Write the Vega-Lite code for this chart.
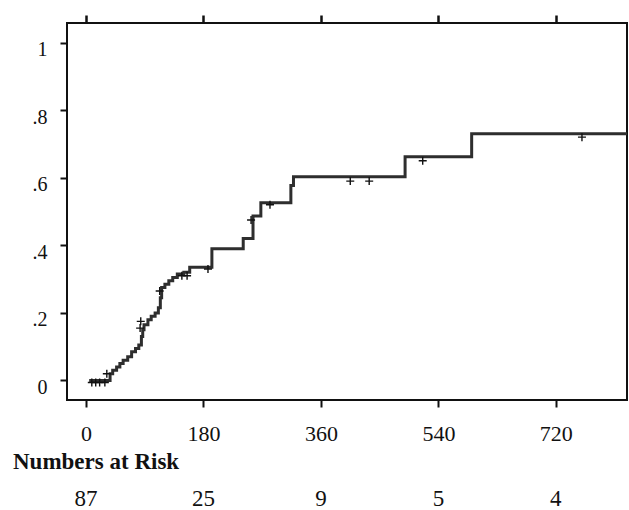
{
  "$schema": "https://vega.github.io/schema/vega-lite/v6.json",
  "autosize": {"type": "pad"},
  "padding": {"left": 13, "top": 12, "right": 0, "bottom": 4},
  "spacing": 92,
  "bounds": "flush",
  "background": "white",
  "config": {
    "font": "Liberation Serif",
    "axis": {"labelFont": "Liberation Serif", "labelColor": "#111", "tickColor": "#111", "grid": false, "domain": false}
  },
  "datasets": {
    "curve": [
      {"time": 5, "risk": 0}, {"time": 34, "risk": 0}, {"time": 37, "risk": 0.02}, {"time": 41, "risk": 0.03},
      {"time": 47, "risk": 0.04}, {"time": 52, "risk": 0.05}, {"time": 57, "risk": 0.06}, {"time": 64, "risk": 0.07},
      {"time": 70, "risk": 0.085}, {"time": 76, "risk": 0.095}, {"time": 81, "risk": 0.105}, {"time": 85, "risk": 0.13},
      {"time": 87, "risk": 0.15}, {"time": 89, "risk": 0.165}, {"time": 95, "risk": 0.18}, {"time": 100, "risk": 0.19},
      {"time": 106, "risk": 0.2}, {"time": 111, "risk": 0.215}, {"time": 114, "risk": 0.245}, {"time": 116, "risk": 0.275},
      {"time": 121, "risk": 0.285}, {"time": 127, "risk": 0.295}, {"time": 133, "risk": 0.305}, {"time": 140, "risk": 0.315},
      {"time": 150, "risk": 0.32}, {"time": 159, "risk": 0.335}, {"time": 193, "risk": 0.39}, {"time": 241, "risk": 0.42},
      {"time": 256, "risk": 0.487}, {"time": 268, "risk": 0.526}, {"time": 314, "risk": 0.577}, {"time": 318, "risk": 0.603},
      {"time": 489, "risk": 0.662}, {"time": 591, "risk": 0.73}, {"time": 829, "risk": 0.73}
    ],
    "censored": [
      {"time": 9, "risk": -0.006}, {"time": 15, "risk": -0.006}, {"time": 21, "risk": -0.006}, {"time": 29, "risk": -0.006},
      {"time": 32, "risk": 0.02}, {"time": 83, "risk": 0.155}, {"time": 84, "risk": 0.175}, {"time": 113, "risk": 0.265},
      {"time": 147, "risk": 0.31}, {"time": 155, "risk": 0.31}, {"time": 187, "risk": 0.33}, {"time": 253, "risk": 0.475},
      {"time": 282, "risk": 0.52}, {"time": 405, "risk": 0.59}, {"time": 434, "risk": 0.59}, {"time": 516, "risk": 0.65},
      {"time": 760, "risk": 0.72}
    ],
    "atrisk": [
      {"time": 0, "n": 87}, {"time": 180, "n": 25}, {"time": 360, "n": 9}, {"time": 540, "n": 5}, {"time": 720, "n": 4}
    ]
  },
  "vconcat": [
    {
      "width": 560,
      "height": 377,
      "view": {"stroke": "#111", "strokeWidth": 2},
      "layer": [
        {
          "data": {"name": "curve"},
          "mark": {"type": "line", "interpolate": "step-after", "color": "#2e2e2e", "strokeWidth": 3},
          "encoding": {
            "x": {
              "field": "time", "type": "quantitative",
              "scale": {"domain": [-29, 829], "nice": false, "zero": false},
              "axis": {"orient": "bottom", "values": [0, 180, 360, 540, 720], "tickSize": 7, "tickWidth": 2,
                       "labelFontSize": 22, "labelBaseline": "alphabetic", "labelPadding": 33, "labelFlush": false, "title": null}
            },
            "y": {
              "field": "risk", "type": "quantitative",
              "scale": {"domain": [-0.0577, 1.0577], "nice": false, "zero": false},
              "axis": {"values": [0, 0.2, 0.4, 0.6, 0.8, 1], "tickSize": 7, "tickWidth": 2, "labelPadding": 13,
                       "labelFontSize": 20, "labelBaseline": "alphabetic", "labelOffset": 13, "title": null,
                       "labelExpr": "datum.value == 0 ? '0' : datum.value == 1 ? '1' : replace(format(datum.value, '.1f'), '0.', '.')"}
            }
          }
        },
        {
          "data": {"name": "censored"},
          "mark": {"type": "point", "shape": "M-1,0L1,0M0,-1L0,1", "filled": false, "stroke": "#111", "strokeWidth": 1.4, "size": 64, "opacity": 1},
          "encoding": {
            "x": {
              "field": "time", "type": "quantitative",
              "scale": {"domain": [-29, 829], "nice": false, "zero": false},
              "axis": {"orient": "top", "values": [0, 180, 360, 540, 720], "tickSize": 8, "tickWidth": 2.5, "labels": false, "title": null}
            },
            "y": {
              "field": "risk", "type": "quantitative",
              "scale": {"domain": [-0.0577, 1.0577], "nice": false, "zero": false}
            }
          }
        }
      ],
      "resolve": {"axis": {"x": "independent"}}
    },
    {
      "width": 560,
      "height": 14,
      "view": {"stroke": null},
      "title": {"text": "Numbers at Risk", "anchor": "start", "dx": -54, "dy": 19, "offset": 15, "baseline": "alphabetic",
                "font": "Liberation Serif", "fontSize": 23, "fontWeight": "bold", "color": "#111"},
      "data": {"name": "atrisk"},
      "mark": {"type": "text", "font": "Liberation Serif", "fontSize": 23, "color": "#111", "baseline": "middle"},
      "encoding": {
        "x": {"field": "time", "type": "quantitative", "scale": {"domain": [-29, 829], "nice": false, "zero": false}, "axis": null},
        "text": {"field": "n", "type": "quantitative"}
      }
    }
  ]
}
